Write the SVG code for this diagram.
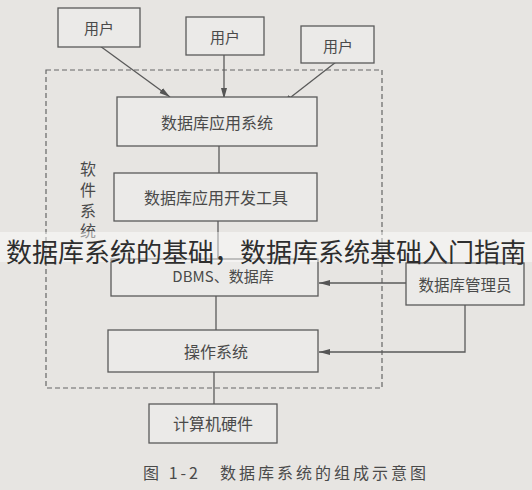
<svg xmlns="http://www.w3.org/2000/svg" width="532" height="490" viewBox="0 0 532 490">
<defs>
<style>
.bx{fill:#ebeae8;stroke:#5a5a5a;stroke-width:1.3}
.t{font-family:"Noto Sans CJK SC",sans-serif;font-size:15px;fill:#4a4a4a;text-anchor:middle;dominant-baseline:central}
.ln{stroke:#5a5a5a;stroke-width:1.3;fill:none}
</style>
<marker id="ah" markerWidth="12" markerHeight="8" refX="11" refY="4" orient="auto" markerUnits="userSpaceOnUse">
<path d="M0,1 L11,4 L0,7 Z" fill="#555"/>
</marker>
</defs>
<rect width="532" height="490" fill="#e7e5e2"/>
<rect x="46" y="70" width="336" height="318" fill="none" stroke="#666" stroke-width="1.2" stroke-dasharray="5,3"/>
<g id="connectors">
<line class="ln" x1="100" y1="46" x2="170" y2="97" marker-end="url(#ah)"/>
<line class="ln" x1="224" y1="55" x2="224" y2="99" marker-end="url(#ah)"/>
<line class="ln" x1="336" y1="62" x2="282" y2="104" marker-end="url(#ah)"/>
<line class="ln" x1="219" y1="146" x2="219" y2="173"/>
<line class="ln" x1="218" y1="221" x2="218" y2="259"/>
<line class="ln" x1="216" y1="296" x2="216" y2="330"/>
<line class="ln" x1="214" y1="372" x2="214" y2="404"/>
<line class="ln" x1="406" y1="283" x2="319" y2="283" marker-end="url(#ah)"/>
<polyline class="ln" points="465,305 465,352 319,352" marker-end="url(#ah)"/>
</g>
<g id="user1"><rect class="bx" x="58" y="8" width="82" height="39"/><text class="t" x="99" y="27">用户</text></g>
<g id="user2"><rect class="bx" x="186" y="17" width="78" height="38"/><text class="t" x="225" y="36">用户</text></g>
<g id="user3"><rect class="bx" x="301" y="26" width="73" height="37"/><text class="t" x="338" y="45">用户</text></g>
<g id="app"><rect class="bx" x="117" y="97" width="200" height="49"/><text class="t" x="217" y="122" style="font-size:16px">数据库应用系统</text></g>
<g id="devtools"><rect class="bx" x="114" y="173" width="203" height="48"/><text class="t" x="216" y="197" style="font-size:16px">数据库应用开发工具</text></g>
<g id="dbms"><rect class="bx" x="111" y="259" width="207" height="37"/><text class="t" x="223" y="275" style="font-size:15px">DBMS、数据库</text></g>
<g id="os"><rect class="bx" x="108" y="330" width="210" height="42"/><text class="t" x="216" y="351" style="font-size:16px">操作系统</text></g>
<g id="hw"><rect class="bx" x="149" y="404" width="128" height="39"/><text class="t" x="213" y="423" style="font-size:16px">计算机硬件</text></g>
<g id="dba"><rect class="bx" x="406" y="263" width="118" height="42"/><text class="t" x="465" y="284" style="font-size:15.5px">数据库管理员</text></g>
<g id="label">
<text class="t" x="88" y="168" style="font-size:16px">软</text>
<text class="t" x="88" y="189" style="font-size:16px">件</text>
<text class="t" x="88" y="210" style="font-size:16px">系</text>
<text class="t" x="88" y="230" style="font-size:16px">统</text>
</g>
<text class="t" x="286" y="472" style="font-size:16px;letter-spacing:3px" >图 1-2　数据库系统的组成示意图</text>
<rect x="0" y="232" width="532" height="30" fill="#ffffff" fill-opacity="0.45"/>
<text x="266" y="250" style="font-family:'Noto Sans CJK SC',sans-serif;font-size:26px;fill:#2e2e2e;text-anchor:middle;dominant-baseline:central">数据库系统的基础，数据库系统基础入门指南</text>
</svg>
